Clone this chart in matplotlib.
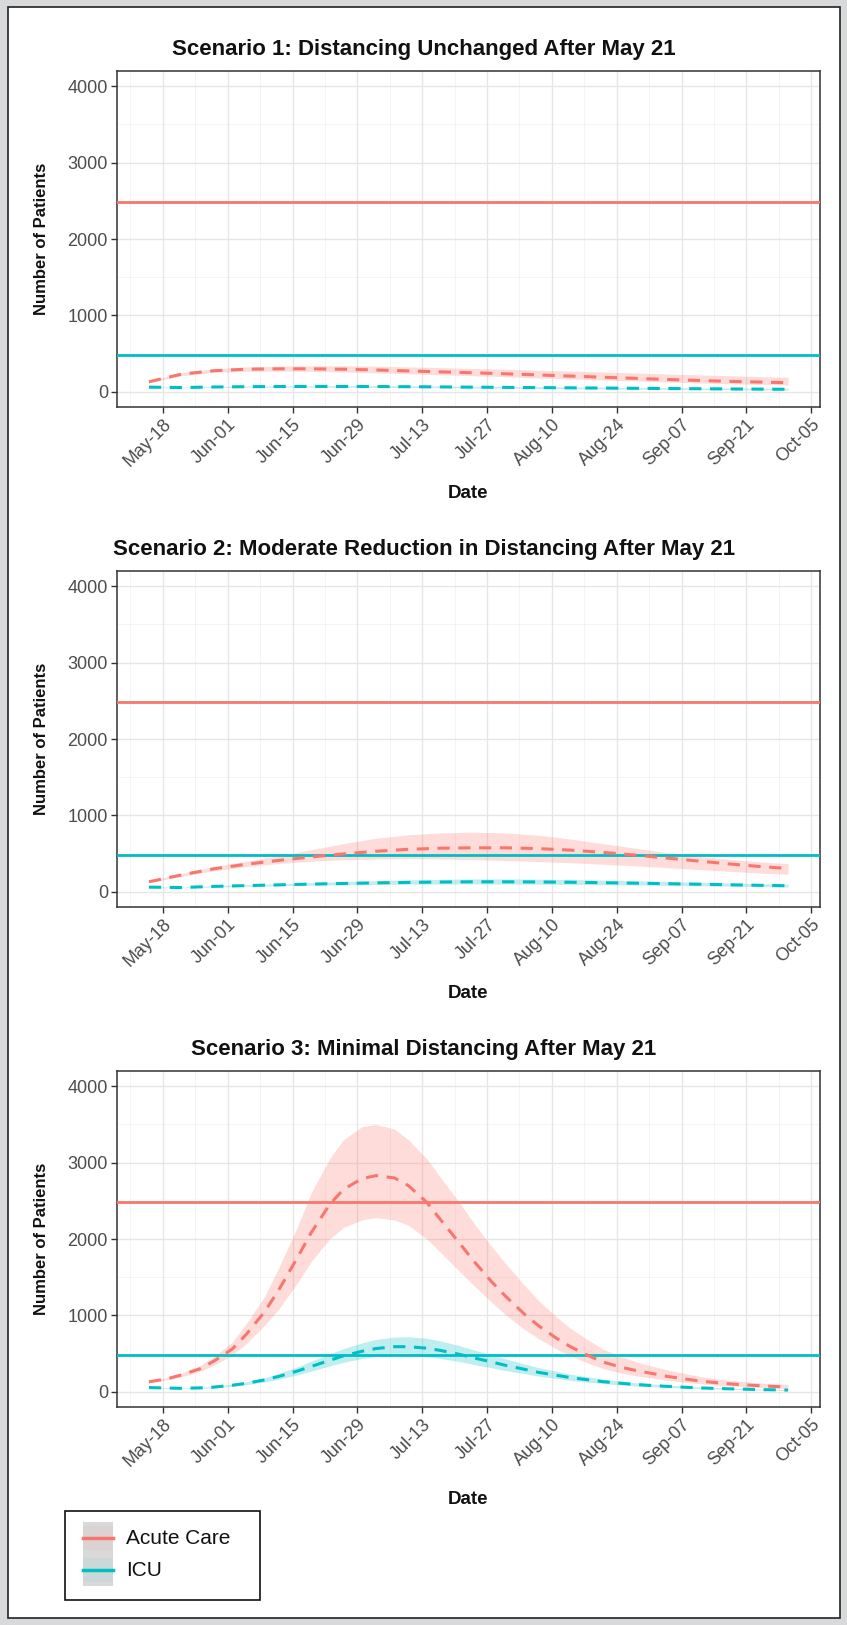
import numpy as np
import matplotlib.pyplot as plt
import matplotlib.dates as mdates
from matplotlib.patches import Rectangle
from matplotlib.lines import Line2D

# ---- data (patients per day, median and 95% band) ----
# scenarios 1 and 2: weekly values
dates_wk = np.array(['2020-05-15', '2020-05-22', '2020-05-29', '2020-06-05', '2020-06-12',
                     '2020-06-19', '2020-06-26', '2020-07-03', '2020-07-10', '2020-07-17',
                     '2020-07-24', '2020-07-31', '2020-08-07', '2020-08-14', '2020-08-21',
                     '2020-08-28', '2020-09-04', '2020-09-11', '2020-09-18', '2020-09-25',
                     '2020-09-30'], dtype='datetime64[D]')
# scenario 3: twice-weekly values
dates_sw = np.array(['2020-05-15', '2020-05-19', '2020-05-22', '2020-05-26', '2020-05-29',
                     '2020-06-02', '2020-06-05', '2020-06-09', '2020-06-12', '2020-06-16',
                     '2020-06-19', '2020-06-23', '2020-06-26', '2020-06-30', '2020-07-03',
                     '2020-07-07', '2020-07-10', '2020-07-14', '2020-07-17', '2020-07-21',
                     '2020-07-24', '2020-07-28', '2020-07-31', '2020-08-04', '2020-08-07',
                     '2020-08-11', '2020-08-14', '2020-08-18', '2020-08-21', '2020-08-25',
                     '2020-08-28', '2020-09-01', '2020-09-04', '2020-09-08', '2020-09-11',
                     '2020-09-15', '2020-09-18', '2020-09-22', '2020-09-25', '2020-09-30'],
                    dtype='datetime64[D]')

titles = ['Scenario 1: Distancing Unchanged After May 21',
          'Scenario 2: Moderate Reduction in Distancing After May 21',
          'Scenario 3: Minimal Distancing After May 21']

acute_cap = 2480
icu_cap = 480

acute_mid = [
    [130, 230, 275, 295, 300, 300, 295, 285, 272, 260, 248, 235, 220, 205, 190, 175, 160, 147, 135, 125, 118],
    [130, 220, 300, 360, 410, 455, 495, 530, 555, 570, 575, 575, 565, 545, 515, 480, 440, 400, 360, 325, 305],
    [130, 170, 220, 300, 400, 560, 750, 1050, 1330, 1750, 2080, 2450, 2650, 2790, 2830, 2800, 2700, 2480,
     2250, 1950, 1720, 1440, 1250, 1020, 870, 700, 590, 470, 390, 320, 280, 235, 200, 165, 140, 115, 100,
     85, 75, 60],
]
acute_hi = [
    [140, 250, 300, 325, 335, 340, 340, 335, 325, 315, 305, 295, 282, 270, 258, 245, 232, 220, 208, 197, 190],
    [140, 240, 330, 400, 470, 550, 630, 700, 745, 770, 780, 770, 740, 690, 630, 570, 510, 460, 420, 385, 370],
    [140, 185, 245, 340, 460, 650, 890, 1250, 1620, 2150, 2600, 3050, 3300, 3470, 3500, 3440, 3300, 3050,
     2800, 2480, 2220, 1900, 1680, 1400, 1200, 980, 830, 670, 560, 460, 395, 330, 285, 235, 200, 165, 145,
     125, 112, 95],
]
acute_lo = [
    [120, 210, 252, 268, 270, 267, 260, 248, 235, 222, 210, 197, 182, 168, 154, 140, 127, 115, 104, 95, 88],
    [120, 200, 275, 330, 370, 400, 420, 430, 435, 430, 420, 410, 395, 380, 360, 340, 315, 290, 265, 240, 230],
    [120, 155, 195, 265, 345, 480, 630, 870, 1080, 1420, 1700, 2000, 2150, 2250, 2280, 2250, 2180, 2000,
     1820, 1580, 1400, 1170, 1010, 820, 700, 560, 470, 370, 305, 245, 210, 175, 150, 122, 104, 84, 72,
     62, 54, 44],
]

icu_mid = [
    [60, 55, 62, 66, 68, 69, 69, 68, 66, 63, 60, 57, 54, 51, 48, 45, 42, 39, 36, 34, 32],
    [60, 55, 70, 80, 90, 100, 108, 116, 122, 127, 130, 130, 128, 124, 118, 112, 105, 98, 90, 83, 78],
    [55, 48, 45, 50, 60, 85, 110, 155, 200, 270, 330, 410, 470, 530, 565, 590, 590, 570, 540, 490, 445,
     390, 345, 295, 255, 215, 185, 155, 132, 110, 95, 80, 70, 58, 50, 42, 37, 31, 27, 22],
]
icu_hi = [
    [65, 60, 68, 74, 77, 79, 80, 80, 78, 75, 72, 69, 66, 63, 60, 57, 54, 51, 48, 46, 44],
    [65, 60, 78, 92, 105, 120, 133, 145, 155, 162, 168, 168, 165, 160, 152, 143, 134, 124, 114, 105, 99],
    [60, 53, 50, 57, 70, 100, 130, 185, 240, 325, 400, 495, 565, 640, 685, 715, 720, 700, 665, 605, 550,
     485, 430, 365, 318, 268, 230, 193, 165, 138, 118, 100, 87, 73, 63, 53, 46, 39, 34, 28],
]
icu_lo = [
    [55, 50, 56, 59, 60, 60, 59, 57, 55, 52, 49, 46, 43, 40, 37, 34, 31, 28, 26, 24, 22],
    [55, 50, 63, 70, 78, 85, 90, 95, 98, 101, 102, 101, 99, 96, 92, 88, 83, 78, 72, 66, 62],
    [50, 43, 40, 44, 52, 72, 92, 128, 165, 220, 270, 335, 385, 435, 462, 478, 478, 460, 435, 395, 358,
     313, 277, 237, 205, 173, 148, 124, 106, 88, 76, 64, 56, 46, 40, 34, 30, 25, 22, 17],
]

scenario_dates = [dates_wk, dates_wk, dates_sw]

tick_dates = np.array(['2020-05-18', '2020-06-01', '2020-06-15', '2020-06-29', '2020-07-13',
                       '2020-07-27', '2020-08-10', '2020-08-24', '2020-09-07', '2020-09-21',
                       '2020-10-05'], dtype='datetime64[D]')
tick_labels = ['May-18', 'Jun-01', 'Jun-15', 'Jun-29', 'Jul-13', 'Jul-27',
               'Aug-10', 'Aug-24', 'Sep-07', 'Sep-21', 'Oct-05']

RED = '#F8766D'
TEAL = '#00BFC4'

W, H = 847, 1625
def fx(px):
    return px / W
def fy(py):
    return 1 - py / H

fig = plt.figure(figsize=(W / 100, H / 100), dpi=100)
fig.patch.set_facecolor('#d8d9da')

# white page with dark frame, drawn on a background axes
bg = fig.add_axes([0, 0, 1, 1], zorder=-5)
bg.set_xlim(0, W)
bg.set_ylim(H, 0)
bg.axis('off')
bg.add_patch(Rectangle((8, 7), 832, 1611, facecolor='white', edgecolor='#222222', lw=1.2))

sans = ['Liberation Sans', 'DejaVu Sans']

x_all = mdates.date2num(dates_wk)
span = x_all[-1] - x_all[0]
xmin, xmax = x_all[0] - 0.05 * span, x_all[-1] + 0.05 * span
major_x = mdates.date2num(tick_dates)
minor_x = np.concatenate([[major_x[0] - 7], major_x[:-1] + 7])

ax_left, ax_right = 117, 820
for k in range(3):
    top = 71 + 500 * k
    bot = 407 + 500 * k
    x = mdates.date2num(scenario_dates[k])
    ax = fig.add_axes([fx(ax_left), fy(bot), fx(ax_right) - fx(ax_left), fy(top) - fy(bot)])
    ax.set_xlim(xmin, xmax)
    ax.set_ylim(-200, 4200)

    # grid
    for gx in minor_x:
        ax.axvline(gx, color='#f3f3f3', lw=0.6, zorder=0)
    for gy in [500, 1500, 2500, 3500]:
        ax.axhline(gy, color='#f3f3f3', lw=0.6, zorder=0)
    for gx in major_x:
        ax.axvline(gx, color='#e6e6e6', lw=1.0, zorder=0)
    for gy in [0, 1000, 2000, 3000, 4000]:
        ax.axhline(gy, color='#e6e6e6', lw=1.0, zorder=0)

    ax.fill_between(x, acute_lo[k], acute_hi[k], color=RED, alpha=0.25, lw=0, zorder=2)
    ax.fill_between(x, icu_lo[k], icu_hi[k], color=TEAL, alpha=0.25, lw=0, zorder=2)
    ax.axhline(acute_cap, color=RED, lw=2.0, zorder=3)
    ax.axhline(icu_cap, color=TEAL, lw=2.0, zorder=3)
    ax.plot(x, acute_mid[k], color=RED, lw=2.2, ls=(0, (4, 2.8)), zorder=4)
    ax.plot(x, icu_mid[k], color=TEAL, lw=2.2, ls=(0, (4, 2.8)), zorder=4)

    ax.set_xticks(major_x)
    ax.set_xticklabels(tick_labels, rotation=45, ha='right', rotation_mode='anchor',
                       family=sans, fontsize=13, color='#4d4d4d')
    ax.set_yticks([0, 1000, 2000, 3000, 4000])
    ax.set_yticklabels(['0', '1000', '2000', '3000', '4000'], family=sans,
                       fontsize=13, color='#4d4d4d')
    ax.tick_params(length=4.5, width=1.0, color='#333333', pad=2)
    for s in ax.spines.values():
        s.set_color('#333333')
        s.set_linewidth(1.1)

    fig.text(fx(424), fy(50 + 500 * k), titles[k], ha='center', va='center',
             family=sans, weight='bold', fontsize=16, color='#111111')
    date_y = 493 + 500 * k if k < 2 else 1500
    fig.text(fx(468), fy(date_y), 'Date', ha='center', va='center',
             family=sans, weight='bold', fontsize=13.5, color='#111111')
    fig.text(fx(42), fy((top + bot) / 2), 'Number of Patients', ha='center', va='center',
             rotation=90, family=sans, weight='bold', fontsize=12, color='#111111')

# legend box
bg.add_patch(Rectangle((65, 1511), 195, 89, facecolor='white', edgecolor='#111111', lw=1.2))
bg.add_patch(Rectangle((83, 1522), 30, 64, facecolor='#d9d9d9', edgecolor='none'))
for name, col, ky in [('Acute Care', RED, 1538), ('ICU', TEAL, 1570)]:
    bg.add_patch(Rectangle((83, ky - 12), 30, 24, facecolor=col, alpha=0.06, edgecolor='none'))
    bg.add_line(Line2D([83, 113], [ky, ky], color=col, lw=2.5))
    bg.text(126, ky, name, ha='left', va='center', family=sans, fontsize=15, color='#111111')

fig.savefig('out.png', dpi=100, facecolor=fig.get_facecolor())
